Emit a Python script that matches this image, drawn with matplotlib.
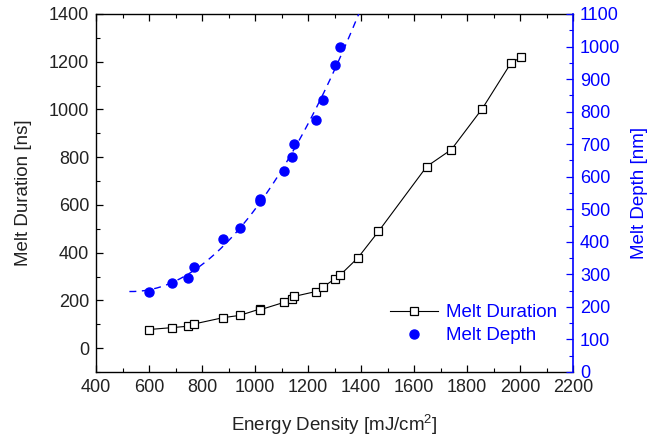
import numpy as np
import matplotlib
matplotlib.use("Agg")
import matplotlib.pyplot as plt
from matplotlib.ticker import MultipleLocator

plt.rcParams['font.family'] = ['Liberation Sans', 'DejaVu Sans']
plt.rcParams['font.size'] = 13
plt.rcParams['mathtext.fontset'] = 'custom'
plt.rcParams['mathtext.rm'] = 'Liberation Sans'

# Melt duration data (left axis, ns)
dur_energy = [600, 688, 748, 769, 881, 942, 1019, 1020, 1110, 1141, 1149,
              1229, 1258, 1301, 1322, 1388, 1466, 1648, 1741, 1858, 1965, 2002]
dur_ns = [78, 86, 92, 101, 128, 137, 164, 161, 192, 204, 217,
          237, 257, 290, 307, 378, 489, 761, 832, 1004, 1193, 1218]

# Melt depth data (right axis, nm)
dep_energy = [600, 688, 748, 769, 881, 942, 1018, 1020, 1111, 1141, 1149,
              1229, 1258, 1301, 1322]
dep_nm = [247, 273, 289, 322, 409, 442, 532, 524, 618, 661, 700,
          774, 836, 942, 998]

fit_range = (526, 1400)

fig = plt.figure(figsize=(6.62, 4.42), dpi=100)
ax = fig.add_axes([96/662, 70/442, 477/662, 358/442])
ax2 = ax.twinx()

l1, = ax.plot(dur_energy, dur_ns, color='black', lw=0.8, marker='s', ms=5.5,
              mfc='white', mec='black', mew=0.9, label='Melt Duration', zorder=3)

coef = np.polyfit(dep_energy, dep_nm, 2)
xf = np.linspace(fit_range[0], fit_range[1], 300)
ax2.plot(xf, np.polyval(coef, xf), color='blue', lw=1.0, ls=(0, (5, 4)))
l2, = ax2.plot(dep_energy, dep_nm, ls='none', marker='o', ms=6.5,
               color='blue', label='Melt Depth')

ax.set_xlim(400, 2200)
ax.set_ylim(-100, 1400)
ax2.set_ylim(0, 1100)

ax.xaxis.set_major_locator(MultipleLocator(200))
ax.xaxis.set_minor_locator(MultipleLocator(100))
ax.yaxis.set_major_locator(MultipleLocator(200))
ax.yaxis.set_minor_locator(MultipleLocator(100))
ax2.yaxis.set_major_locator(MultipleLocator(100))
ax2.yaxis.set_minor_locator(MultipleLocator(50))

ax.tick_params(which='both', direction='in', top=True, right=False, colors='black',
               labelcolor='#222222')
ax.tick_params(which='major', length=5, width=0.9, labelsize=13, pad=5)
ax.tick_params(which='minor', length=3, width=0.8)
ax2.tick_params(which='both', direction='in', colors='blue', labelcolor='blue')
ax2.tick_params(which='major', length=5, width=0.9, labelsize=13, pad=5)
ax2.tick_params(which='minor', length=3, width=0.8)

for s in ['left', 'top', 'bottom']:
    ax.spines[s].set_linewidth(1.0)
    ax2.spines[s].set_visible(False)
ax.spines['right'].set_visible(False)
ax2.spines['right'].set_color('blue')
ax2.spines['right'].set_linewidth(1.2)

ax.set_xlabel('Energy Density [mJ/cm$^2$]', fontsize=13.5, color='#222222')
ax.set_ylabel('Melt Duration [ns]', fontsize=13.5, color='#222222')
ax2.set_ylabel('Melt Depth [nm]', fontsize=13.5, color='blue')
ax.xaxis.set_label_coords(0.5, -0.112)
ax.yaxis.set_label_coords(-0.134, 0.5)
ax2.yaxis.set_label_coords(1.1216, 0.5)

leg = ax2.legend([l1, l2], ['Melt Duration', 'Melt Depth'], loc='lower right',
                 bbox_to_anchor=(0.982, 0.057), frameon=False, labelcolor='blue',
                 fontsize=13.5, handlelength=2.6, handletextpad=0.4,
                 labelspacing=0.3, borderaxespad=0)

fig.savefig('out.png', dpi=100)
